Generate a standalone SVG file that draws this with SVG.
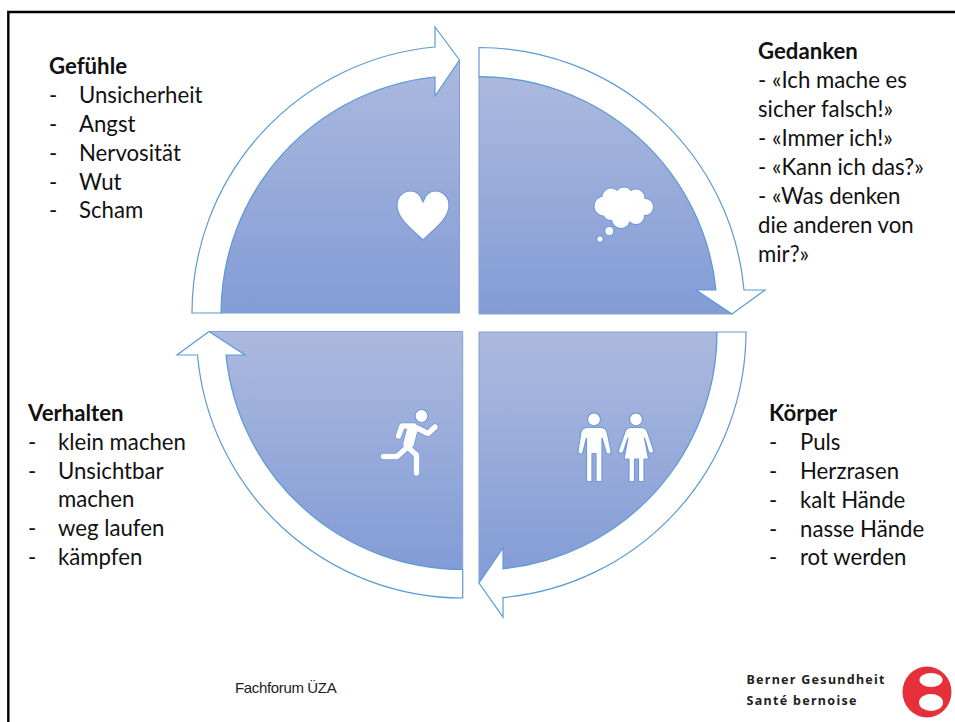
<svg xmlns="http://www.w3.org/2000/svg" xmlns:xlink="http://www.w3.org/1999/xlink" width="955" height="722" viewBox="0 0 955 722">
<style>
.pie{fill:url(#g);stroke:#7f9fd9;stroke-width:1}
.arrow{fill:#fff;stroke:#5b9bd5;stroke-width:1.2;stroke-linejoin:miter}
.ic{fill:#fff;stroke:#6f9bd8;stroke-width:1.2;stroke-linejoin:round}
.halo{fill:none;stroke:#6f9bd8;stroke-linecap:round;stroke-linejoin:round}
.core{fill:none;stroke:#fff;stroke-linecap:round;stroke-linejoin:round}
.cloudh{fill:#6f9bd8;stroke:#6f9bd8;stroke-width:2.2}
.cloudc{fill:#fff}
text{font-family:"Lato","Carlito","Liberation Sans",sans-serif;font-size:22.2px;fill:#111}
.b{font-weight:700}
.foot{font-family:"Liberation Sans",Arial,sans-serif;font-size:15px;letter-spacing:-.35px;fill:#222}
.logo{font-family:"Noto Sans","Liberation Sans",sans-serif;font-size:12.5px;font-weight:700;fill:#222}
</style>
<defs>
<linearGradient id="g" x1="0" y1="0" x2="0" y2="1"><stop offset="0" stop-color="#abb9de"/><stop offset="1" stop-color="#839cd6"/></linearGradient>
<g id="cloud"><circle cx="604" cy="206" r="9.500"/><circle cx="611" cy="197" r="8.500"/><circle cx="624" cy="196" r="8.500"/><circle cx="636" cy="198" r="8.500"/><circle cx="645" cy="207" r="8"/><circle cx="636" cy="216" r="8"/><circle cx="621" cy="219" r="9"/><circle cx="611" cy="212" r="8"/><circle cx="625" cy="207" r="12"/></g>
<path id="limbs" d="M415,427 L428,433.500 L435,427 M414,426 H402 L398.500,436 M407.500,447 L397,456.500 H383.500 M407.500,447 L416.500,455 V473"/>
<path id="torso" d="M412.500,429 L408.500,444"/>
</defs>
<rect width="955" height="722" fill="#fff"/>
<g id="frame"><path d="M8.300,722 V12 H955" fill="none" stroke="#000" stroke-width="2.400"/></g>
<g id="gefuehle">
<path class="pie" d="M459.500,60 V313 H221 A238,238 0 0 1 435,77 Z"/>
<path class="ic" d="M423,240 C412,229 397,219 397,205 C397,196 404,191 411,191 C417,191 421,196 423,202 C425,196 429,191 435,191 C443,191 449,197 449,205 C449,219 434,229 423,240 Z"/>
<text class="b" x="49" y="74">Gefühle</text>
<text x="49" y="103">-</text><text x="79" y="103">Unsicherheit</text>
<text x="49" y="132">-</text><text x="79" y="132">Angst</text>
<text x="49" y="161">-</text><text x="79" y="161">Nervosität</text>
<text x="49" y="190">-</text><text x="79" y="190">Wut</text>
<text x="49" y="218">-</text><text x="79" y="218">Scham</text>
</g>
<g id="gedanken">
<path class="pie" d="M479,76.700 A237.300,237.300 0 0 1 716,290 L732,314 H479 Z"/>
<use xlink:href="#cloud" href="#cloud" class="cloudh"/>
<use xlink:href="#cloud" href="#cloud" class="cloudc"/>
<circle class="ic" cx="609.300" cy="231" r="4.500"/><circle class="ic" cx="600" cy="239" r="3.200"/>
<text class="b" x="758" y="59">Gedanken</text>
<text x="758" y="88">- «Ich mache es</text>
<text x="758" y="117">sicher falsch!»</text>
<text x="758" y="146">- «Immer ich!»</text>
<text x="758" y="175">- «Kann ich das?»</text>
<text x="758" y="204">- «Was denken</text>
<text x="758" y="233">die anderen von</text>
<text x="758" y="262">mir?»</text>
</g>
<g id="koerper">
<path class="pie" d="M479,332 H717 A238,238 0 0 1 503,568.800 L479,583 Z"/>
<circle class="ic" cx="594" cy="419.300" r="6.500"/>
<path class="ic" d="M587,427.500 H601 Q606,428 607,432 L611,451 a2.500,2.500 0 0 1 -5,1 L602,438 V481.500 H596 V453.500 H592 V481.500 H586.500 V438 L583,452 a2.500,2.500 0 0 1 -5,-1 L581,432 Q582,428 587,427.500 Z"/>
<circle class="ic" cx="636" cy="419.300" r="6.500"/>
<path class="ic" d="M630,427.500 H642 Q646,428 647.500,432 L653.500,450 a2.500,2.500 0 0 1 -5,1.500 L644.500,438 L648.500,459 H644 V481.500 H638.500 V459 H634.500 V481.500 H629 V459 H624 L628,438 L623.500,451.500 a2.500,2.500 0 0 1 -5,-1.500 L625,432 Q626,428 630,427.500 Z"/>
<text class="b" x="769" y="421">Körper</text>
<text x="769" y="450">-</text><text x="800" y="450">Puls</text>
<text x="769" y="479">-</text><text x="800" y="479">Herzrasen</text>
<text x="769" y="508">-</text><text x="800" y="508">kalt Hände</text>
<text x="769" y="537">-</text><text x="800" y="537">nasse Hände</text>
<text x="769" y="565">-</text><text x="800" y="565">rot werden</text>
</g>
<g id="verhalten">
<path class="pie" d="M462.700,331.500 V569.500 A238,238 0 0 1 226,355 L209,331.500 Z"/>
<circle class="ic" cx="421.500" cy="416" r="6.500"/>
<use xlink:href="#limbs" href="#limbs" class="halo" stroke-width="7"/>
<use xlink:href="#torso" href="#torso" class="halo" stroke-width="12"/>
<use xlink:href="#limbs" href="#limbs" class="core" stroke-width="5.500"/>
<use xlink:href="#torso" href="#torso" class="core" stroke-width="10.500"/>
<text class="b" x="28" y="421">Verhalten</text>
<text x="28" y="450">-</text><text x="58" y="450">klein machen</text>
<text x="28" y="479">-</text><text x="58" y="479">Unsichtbar</text>
<text x="58" y="507">machen</text>
<text x="28" y="536">-</text><text x="58" y="536">weg laufen</text>
<text x="28" y="565">-</text><text x="58" y="565">kämpfen</text>
</g>
<g id="connectors">
<path class="arrow" d="M192,313 A267,267 0 0 1 435,47 V27 L459.500,60 L435,96 V77 A238,238 0 0 0 221,313 Z"/>
<path class="arrow" d="M479,47.500 A266.500,266.500 0 0 1 744,290 H765 L732,314 L696,290 H716 A237.300,237.300 0 0 0 479,76.700 Z"/>
<path class="arrow" d="M746,332 A267,267 0 0 1 503,597.500 V617 L479,583 L503,548 V568.800 A238,238 0 0 0 717,332 Z"/>
<path class="arrow" d="M462.700,598 A266.500,266.500 0 0 1 197.500,355 H177 L209,331.500 L245,355 H226 A238,238 0 0 0 462.700,569.500 Z"/>
</g>
<g id="footer">
<text class="foot" x="235" y="693">Fachforum ÜZA</text>
<text class="logo" x="746.500" y="684" textLength="138" lengthAdjust="spacing">Berner Gesundheit</text>
<text class="logo" x="746.500" y="705" textLength="110" lengthAdjust="spacing">Santé bernoise</text>
<ellipse cx="927" cy="692" rx="24.500" ry="25.500" fill="#e5303c"/>
<ellipse cx="931" cy="680" rx="11.500" ry="7" fill="#fff"/>
<ellipse cx="931" cy="702.500" rx="12" ry="8.500" fill="#fff"/>
</g>
</svg>
